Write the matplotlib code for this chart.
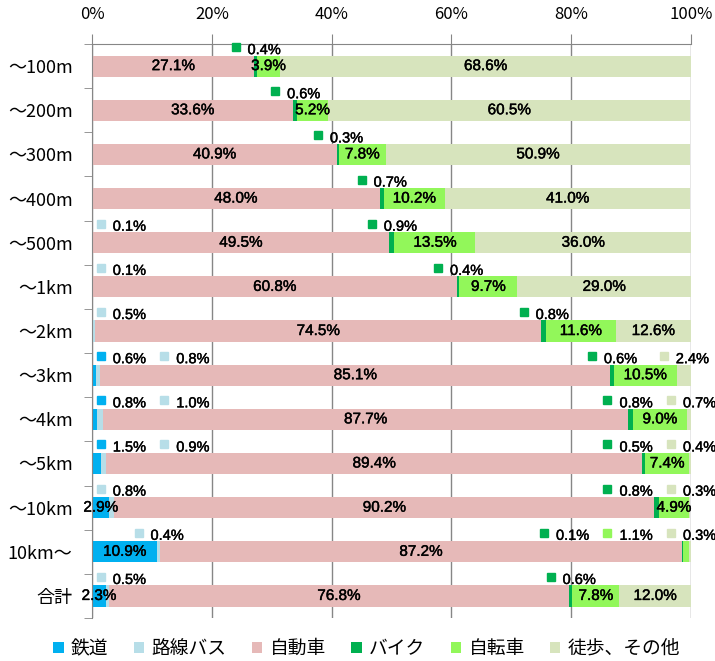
import matplotlib
matplotlib.use('Agg')
import matplotlib.pyplot as plt
import matplotlib.transforms as mtransforms
import matplotlib.patheffects as pe
import numpy as np

categories = ['～100m', '～200m', '～300m', '～400m', '～500m', '～1km', '～2km',
              '～3km', '～4km', '～5km', '～10km', '10km～', '合計']
modes = ['鉄道', '路線バス', '自動車', 'バイク', '自転車', '徒歩、その他']
rail = [0, 0, 0, 0, 0, 0, 0, 0.6, 0.8, 1.5, 2.9, 10.9, 2.3]
bus = [0, 0, 0, 0, 0.1, 0.1, 0.5, 0.8, 1.0, 0.9, 0.8, 0.4, 0.5]
car = [27.1, 33.6, 40.9, 48.0, 49.5, 60.8, 74.5, 85.1, 87.7, 89.4, 90.2, 87.2, 76.8]
bike = [0.4, 0.6, 0.3, 0.7, 0.9, 0.4, 0.8, 0.6, 0.8, 0.5, 0.8, 0.1, 0.6]
cycle = [3.9, 5.2, 7.8, 10.2, 13.5, 9.7, 11.6, 10.5, 9.0, 7.4, 4.9, 1.1, 7.8]
walk = [68.6, 60.5, 50.9, 41.0, 36.0, 29.0, 12.6, 2.4, 0.7, 0.4, 0.3, 0.3, 12.0]
xticks = [0, 20, 40, 60, 80, 100]

colors = ['#00B0F0', '#B7DEE8', '#E6B9B8', '#00B050', '#92F75A', '#D7E4BD']
inside_min = [2.0, 2.0, 2.0, 2.0, 2.0, 3.0]   # smaller values get a label above the bar
gray = '#868686'
numfont = 'Liberation Sans'
jpfont = ['Noto Sans CJK JP', 'DejaVu Sans']
heavy = [pe.withStroke(linewidth=0.3, foreground='black')]

series = [rail, bus, car, bike, cycle, walk]
data = np.array(series, dtype=float)
y = np.arange(len(categories))

fig = plt.figure(figsize=(7.15, 6.61), dpi=100)
ax = fig.add_axes([0.1287, 0.065, 0.8377, 0.8684])

left = np.zeros(len(categories))
for vals, name, c in zip(data, modes, colors):
    ax.barh(y, vals, left=left, height=0.48, color=c, label=name, zorder=2)
    left += vals


def spread(centers, lo=4.8, hi=100.0, gap=10.6):
    pos = [min(max(c, lo), hi) for c in centers]
    for k in range(1, len(pos)):
        pos[k] = max(pos[k], pos[k - 1] + gap)
    if pos and pos[-1] > hi:
        pos[-1] = hi
    for k in range(len(pos) - 2, -1, -1):
        pos[k] = min(pos[k], pos[k + 1] - gap)
    return pos


mark_tr = mtransforms.offset_copy(ax.transData, fig=fig, x=-20, y=19, units='dots')
text_tr = mtransforms.offset_copy(ax.transData, fig=fig, x=-8, y=16, units='dots')

cum = np.cumsum(data, axis=0) - data
for i in range(len(categories)):
    small = []
    for s in range(len(modes)):
        v = data[s, i]
        if v <= 0:
            continue
        mid = cum[s, i] + v / 2
        if v >= inside_min[s]:
            ax.text(mid, i, f'{v:.1f}%', ha='center', va='center', fontsize=11,
                    family=numfont, zorder=4, path_effects=heavy)
        else:
            small.append((mid, s, v))
    xs = spread([m for m, _, _ in small])
    for xp, (_, s, v) in zip(xs, small):
        ax.plot(xp, i, marker='s', ms=5.8, color=colors[s], transform=mark_tr,
                clip_on=False, zorder=5)
        ax.text(xp, i, f'{v:.1f}%', ha='left', va='center', fontsize=10.5,
                family=numfont, transform=text_tr, clip_on=False, zorder=5,
                path_effects=heavy)

ax.set_xlim(0, 100)
ax.set_ylim(len(categories) - 0.5, -0.5)
ax.xaxis.tick_top()
ax.set_xticks(xticks)
ax.set_xticklabels([f'{t}%' for t in xticks], family=jpfont, fontsize=12)
ax.tick_params(axis='x', direction='out', length=7, color=gray, pad=8)
ax.set_yticks(y)
ax.set_yticklabels(categories, family=jpfont, fontsize=13)
ax.set_yticks(np.arange(-0.5, len(categories), 1), minor=True)
ax.tick_params(axis='y', which='major', length=0, pad=14)
ax.tick_params(axis='y', which='minor', direction='out', length=6, color=gray)
ax.xaxis.grid(True, color=gray, lw=1)
ax.set_axisbelow(True)
for side in ['right', 'bottom']:
    ax.spines[side].set_visible(False)
for side in ['top', 'left']:
    ax.spines[side].set_color(gray)

fig.legend(loc='center', bbox_to_anchor=(0.513, 0.019), ncol=6, frameon=False,
           prop={'family': jpfont, 'size': 13.5}, handlelength=0.55, handleheight=0.55,
           handletextpad=0.4, columnspacing=1.35, borderaxespad=0, borderpad=0)

fig.savefig('out.png', dpi=100)
